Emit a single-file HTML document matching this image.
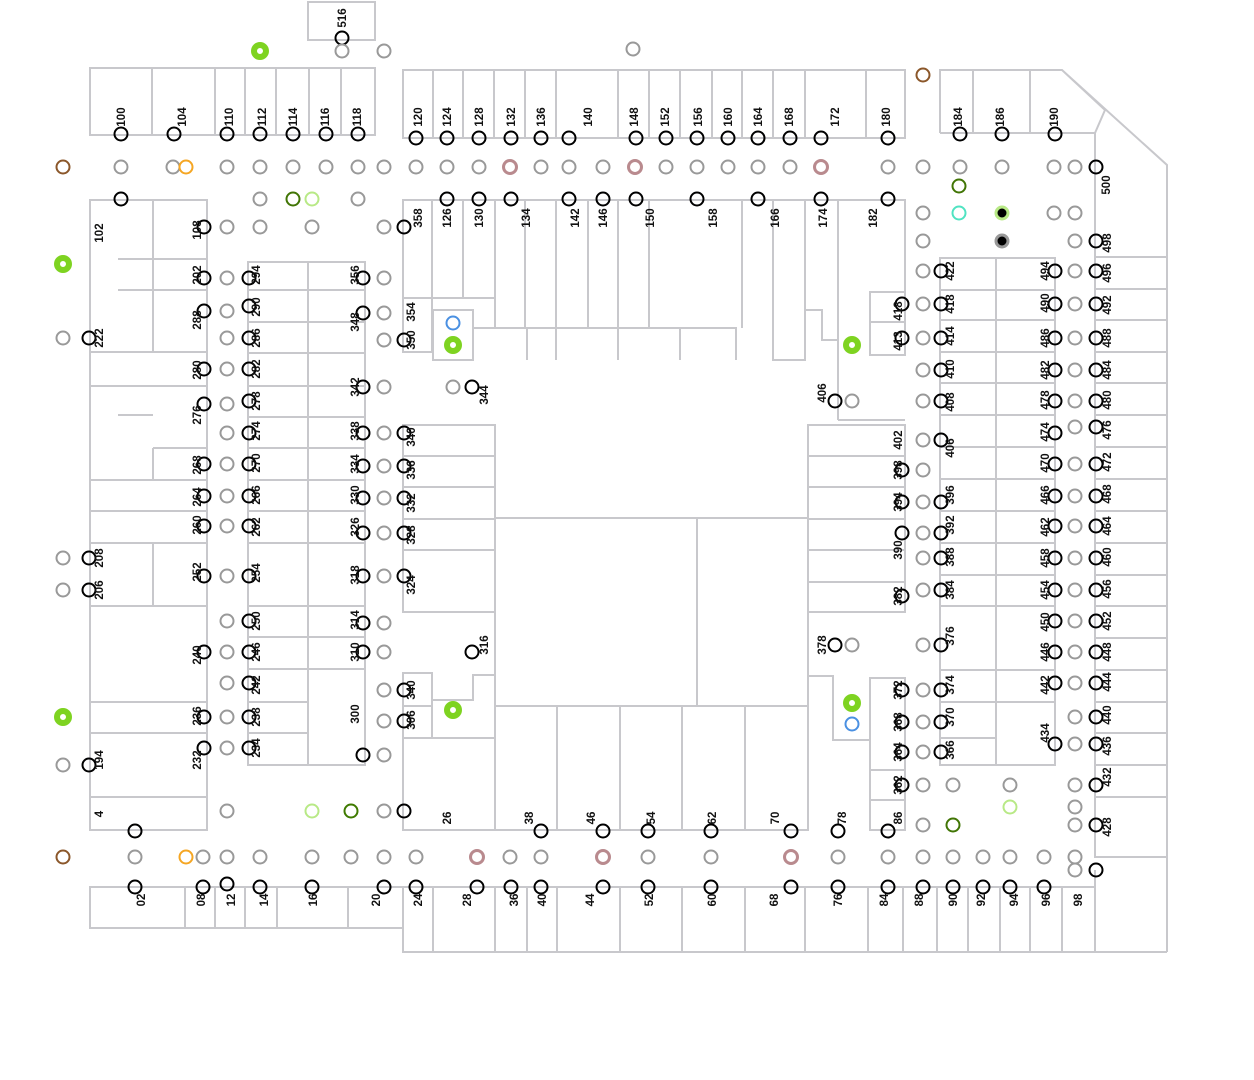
<!DOCTYPE html>
<html><head><meta charset="utf-8"><style>
html,body{margin:0;padding:0;background:#fff}
svg{display:block}
.w{fill:none;stroke:#c8c8cc;stroke-width:2}
circle{fill:none;stroke-width:2}
.k{stroke:#000}
.g{stroke:#999}
.p circle{stroke:#b98a8e;stroke-width:3}
.gr circle{fill:#fff;stroke:#7ed321;stroke-width:6}
circle.bf1{fill:#000;stroke:#b8e986;stroke-width:3}
circle.bf2{fill:#000;stroke:#999;stroke-width:3}
text{font-family:"Liberation Sans",sans-serif;font-weight:bold;font-size:11.5px;fill:#111;text-anchor:middle}
</style></head><body>
<svg width="1254" height="1080" viewBox="0 0 1254 1080" xmlns="http://www.w3.org/2000/svg">
<g class="w">
<rect x="308" y="2" width="67" height="38"/>
<rect x="90" y="68" width="285" height="67"/>
<path d="M152 68V135M215 68V135M245 68V135M276 68V135M309 68V135M341 68V135"/>
<rect x="403" y="70" width="502" height="68"/>
<path d="M433 70V138M463 70V138M494 70V138M525 70V138M556 70V138M618 70V138M649 70V138M680 70V138M712 70V138M742 70V138M773 70V138M805 70V138M866 70V138"/>
<path d="M940 133V70H1062L1167 165V952M940 133H1095V225M973 70V133M1030 70V133M1062 70L1105 110L1095 133"/>
<path d="M90 200H207V830H90ZM153 200V352M118 259H207M118 290H207M90 352H207M90 386H207M118 415H153M153 448H207M153 448V480M90 480H207M90 511H207M90 543H207M153 543V606M90 606H207M90 702H207M90 733H207M90 797H207"/>
<path d="M248 262H365V765H248ZM308 262V765M248 290H365M248 322H365M248 353H365M248 386H365M248 417H365M248 448H365M248 480H365M248 511H365M248 543H365M248 606H365M248 637H365M248 669H365M248 702H308M248 733H308"/>
<path d="M403 200H495V298H403ZM432 200V298M463 200V298M403 298V352H432V298M433 310H473V360H433ZM473 328H736V360M495 298V328M527 328V360M556 328V360M618 328V360M680 328V360"/>
<path d="M495 200V298M495 200H905V330M525 200V328M556 200V328M588 200V328M618 200V328M649 200V328M742 200V328M773 200V360H805V310H822V340H838V328M805 200V310M838 200V420M870 292H905V355H870ZM870 322H905"/>
<path d="M403 425H495V612H403ZM403 456H495M403 487H495M403 519H495M403 550H495"/>
<path d="M495 518H808V706H495ZM697 518V706"/>
<path d="M808 425H905V612H808ZM808 456H905M808 487H905M808 519H905M808 550H905M808 582H905M838 420H905"/>
<path d="M403 673H432V738H403ZM403 706H432M432 673V700H473V675H495V738M473 675V700M432 738H495M403 738V830H808V706M557 706V830M620 706V830M682 706V830M745 706V830M495 706V830M808 706V830"/>
<path d="M808 676H833V740H870V678H905V830H870V740M870 770H905M870 800H905M808 676V706"/>
<path d="M940 258H1055V765H940ZM996 258V765M940 290H1055M940 320H1055M940 352H1055M940 383H1055M940 415H1055M940 447H1055M940 479H1055M940 511H1055M940 543H1055M940 575H1055M940 606H1055M940 670H1055M940 702H1055M940 738H996"/>
<path d="M1095 225V857H1167M1095 257H1167M1095 289H1167M1095 320H1167M1095 352H1167M1095 383H1167M1095 415H1167M1095 447H1167M1095 479H1167M1095 511H1167M1095 543H1167M1095 575H1167M1095 606H1167M1095 638H1167M1095 670H1167M1095 702H1167M1095 733H1167M1095 765H1167M1095 797H1167"/>
<path d="M90 887H403V928H90ZM185 887V928M215 887V928M245 887V928M277 887V928M348 887V928"/>
<path d="M403 887H1095V952H403ZM1095 870V952H1167M433 887V952M495 887V952M527 887V952M557 887V952M620 887V952M682 887V952M745 887V952M805 887V952M868 887V952M903 887V952M937 887V952M968 887V952M1000 887V952M1030 887V952M1062 887V952"/>
</g>
<g class="k">
<circle cx="342" cy="38" r="6.5"/>
<circle cx="121" cy="134" r="6.5"/><circle cx="174" cy="134" r="6.5"/><circle cx="227" cy="134" r="6.5"/><circle cx="260" cy="134" r="6.5"/><circle cx="293" cy="134" r="6.5"/><circle cx="326" cy="134" r="6.5"/><circle cx="358" cy="134" r="6.5"/>
<circle cx="416" cy="138" r="6.5"/><circle cx="447" cy="138" r="6.5"/><circle cx="479" cy="138" r="6.5"/><circle cx="511" cy="138" r="6.5"/><circle cx="541" cy="138" r="6.5"/><circle cx="569" cy="138" r="6.5"/><circle cx="636" cy="138" r="6.5"/><circle cx="666" cy="138" r="6.5"/><circle cx="697" cy="138" r="6.5"/><circle cx="728" cy="138" r="6.5"/><circle cx="758" cy="138" r="6.5"/><circle cx="790" cy="138" r="6.5"/><circle cx="821" cy="138" r="6.5"/><circle cx="888" cy="138" r="6.5"/>
<circle cx="960" cy="134" r="6.5"/><circle cx="1002" cy="134" r="6.5"/><circle cx="1055" cy="134" r="6.5"/><circle cx="1096" cy="167" r="6.5"/>
<circle cx="121" cy="199" r="6.5"/><circle cx="447" cy="199" r="6.5"/><circle cx="479" cy="199" r="6.5"/><circle cx="511" cy="199" r="6.5"/><circle cx="569" cy="199" r="6.5"/><circle cx="603" cy="199" r="6.5"/><circle cx="636" cy="199" r="6.5"/><circle cx="697" cy="199" r="6.5"/><circle cx="758" cy="199" r="6.5"/><circle cx="821" cy="199" r="6.5"/><circle cx="888" cy="199" r="6.5"/>
<circle cx="204" cy="227" r="6.5"/><circle cx="204" cy="278" r="6.5"/><circle cx="204" cy="311" r="6.5"/><circle cx="89" cy="338" r="6.5"/><circle cx="204" cy="369" r="6.5"/><circle cx="204" cy="404" r="6.5"/><circle cx="204" cy="464" r="6.5"/><circle cx="204" cy="496" r="6.5"/><circle cx="204" cy="526" r="6.5"/><circle cx="89" cy="558" r="6.5"/><circle cx="89" cy="590" r="6.5"/><circle cx="204" cy="576" r="6.5"/><circle cx="204" cy="652" r="6.5"/><circle cx="204" cy="717" r="6.5"/><circle cx="204" cy="748" r="6.5"/><circle cx="89" cy="765" r="6.5"/><circle cx="135" cy="831" r="6.5"/>
<circle cx="249" cy="278" r="6.5"/><circle cx="249" cy="306" r="6.5"/><circle cx="249" cy="338" r="6.5"/><circle cx="249" cy="369" r="6.5"/><circle cx="249" cy="401" r="6.5"/><circle cx="249" cy="433" r="6.5"/><circle cx="249" cy="464" r="6.5"/><circle cx="249" cy="496" r="6.5"/><circle cx="249" cy="526" r="6.5"/><circle cx="249" cy="576" r="6.5"/><circle cx="249" cy="621" r="6.5"/><circle cx="249" cy="652" r="6.5"/><circle cx="249" cy="683" r="6.5"/><circle cx="249" cy="717" r="6.5"/><circle cx="249" cy="748" r="6.5"/>
<circle cx="363" cy="278" r="6.5"/><circle cx="363" cy="313" r="6.5"/><circle cx="363" cy="387" r="6.5"/><circle cx="363" cy="433" r="6.5"/><circle cx="363" cy="466" r="6.5"/><circle cx="363" cy="498" r="6.5"/><circle cx="363" cy="533" r="6.5"/><circle cx="363" cy="576" r="6.5"/><circle cx="363" cy="623" r="6.5"/><circle cx="363" cy="652" r="6.5"/><circle cx="363" cy="755" r="6.5"/>
<circle cx="404" cy="227" r="6.5"/><circle cx="404" cy="340" r="6.5"/><circle cx="404" cy="433" r="6.5"/><circle cx="404" cy="466" r="6.5"/><circle cx="404" cy="498" r="6.5"/><circle cx="404" cy="533" r="6.5"/><circle cx="404" cy="576" r="6.5"/><circle cx="404" cy="690" r="6.5"/><circle cx="404" cy="721" r="6.5"/><circle cx="404" cy="811" r="6.5"/><circle cx="472" cy="387" r="6.5"/><circle cx="472" cy="652" r="6.5"/>
<circle cx="835" cy="401" r="6.5"/><circle cx="835" cy="645" r="6.5"/>
<circle cx="902" cy="304" r="6.5"/><circle cx="902" cy="338" r="6.5"/><circle cx="902" cy="470" r="6.5"/><circle cx="902" cy="502" r="6.5"/><circle cx="902" cy="533" r="6.5"/><circle cx="902" cy="596" r="6.5"/><circle cx="902" cy="690" r="6.5"/><circle cx="902" cy="722" r="6.5"/><circle cx="902" cy="752" r="6.5"/><circle cx="902" cy="785" r="6.5"/>
<circle cx="941" cy="271" r="6.5"/><circle cx="941" cy="304" r="6.5"/><circle cx="941" cy="338" r="6.5"/><circle cx="941" cy="370" r="6.5"/><circle cx="941" cy="401" r="6.5"/><circle cx="941" cy="440" r="6.5"/><circle cx="941" cy="502" r="6.5"/><circle cx="941" cy="533" r="6.5"/><circle cx="941" cy="558" r="6.5"/><circle cx="941" cy="590" r="6.5"/><circle cx="941" cy="645" r="6.5"/><circle cx="941" cy="690" r="6.5"/><circle cx="941" cy="722" r="6.5"/><circle cx="941" cy="752" r="6.5"/>
<circle cx="1055" cy="271" r="6.5"/><circle cx="1055" cy="304" r="6.5"/><circle cx="1055" cy="338" r="6.5"/><circle cx="1055" cy="370" r="6.5"/><circle cx="1055" cy="401" r="6.5"/><circle cx="1055" cy="433" r="6.5"/><circle cx="1055" cy="464" r="6.5"/><circle cx="1055" cy="496" r="6.5"/><circle cx="1055" cy="526" r="6.5"/><circle cx="1055" cy="558" r="6.5"/><circle cx="1055" cy="590" r="6.5"/><circle cx="1055" cy="621" r="6.5"/><circle cx="1055" cy="652" r="6.5"/><circle cx="1055" cy="683" r="6.5"/><circle cx="1055" cy="744" r="6.5"/>
<circle cx="1096" cy="241" r="6.5"/><circle cx="1096" cy="271" r="6.5"/><circle cx="1096" cy="304" r="6.5"/><circle cx="1096" cy="338" r="6.5"/><circle cx="1096" cy="370" r="6.5"/><circle cx="1096" cy="401" r="6.5"/><circle cx="1096" cy="427" r="6.5"/><circle cx="1096" cy="464" r="6.5"/><circle cx="1096" cy="496" r="6.5"/><circle cx="1096" cy="526" r="6.5"/><circle cx="1096" cy="558" r="6.5"/><circle cx="1096" cy="590" r="6.5"/><circle cx="1096" cy="621" r="6.5"/><circle cx="1096" cy="652" r="6.5"/><circle cx="1096" cy="683" r="6.5"/><circle cx="1096" cy="717" r="6.5"/><circle cx="1096" cy="744" r="6.5"/><circle cx="1096" cy="785" r="6.5"/><circle cx="1096" cy="825" r="6.5"/><circle cx="1096" cy="870" r="6.5"/>
<circle cx="541" cy="831" r="6.5"/><circle cx="603" cy="831" r="6.5"/><circle cx="648" cy="831" r="6.5"/><circle cx="711" cy="831" r="6.5"/><circle cx="791" cy="831" r="6.5"/><circle cx="838" cy="831" r="6.5"/><circle cx="888" cy="831" r="6.5"/>
<circle cx="135" cy="887" r="6.5"/><circle cx="203" cy="887" r="6.5"/><circle cx="227" cy="884" r="6.5"/><circle cx="260" cy="887" r="6.5"/><circle cx="312" cy="887" r="6.5"/><circle cx="384" cy="887" r="6.5"/><circle cx="416" cy="887" r="6.5"/><circle cx="477" cy="887" r="6.5"/><circle cx="511" cy="887" r="6.5"/><circle cx="541" cy="887" r="6.5"/><circle cx="603" cy="887" r="6.5"/><circle cx="648" cy="887" r="6.5"/><circle cx="711" cy="887" r="6.5"/><circle cx="791" cy="887" r="6.5"/><circle cx="838" cy="887" r="6.5"/><circle cx="888" cy="887" r="6.5"/><circle cx="923" cy="887" r="6.5"/><circle cx="953" cy="887" r="6.5"/><circle cx="983" cy="887" r="6.5"/><circle cx="1010" cy="887" r="6.5"/><circle cx="1044" cy="887" r="6.5"/>
</g>
<g class="g">
<circle cx="342" cy="51" r="6.5"/><circle cx="384" cy="51" r="6.5"/><circle cx="633" cy="49" r="6.5"/>
<circle cx="121" cy="167" r="6.5"/><circle cx="173" cy="167" r="6.5"/><circle cx="227" cy="167" r="6.5"/><circle cx="260" cy="167" r="6.5"/><circle cx="293" cy="167" r="6.5"/><circle cx="326" cy="167" r="6.5"/><circle cx="358" cy="167" r="6.5"/><circle cx="384" cy="167" r="6.5"/><circle cx="416" cy="167" r="6.5"/><circle cx="447" cy="167" r="6.5"/><circle cx="479" cy="167" r="6.5"/><circle cx="541" cy="167" r="6.5"/><circle cx="569" cy="167" r="6.5"/><circle cx="603" cy="167" r="6.5"/><circle cx="666" cy="167" r="6.5"/><circle cx="697" cy="167" r="6.5"/><circle cx="728" cy="167" r="6.5"/><circle cx="758" cy="167" r="6.5"/><circle cx="790" cy="167" r="6.5"/><circle cx="888" cy="167" r="6.5"/><circle cx="923" cy="167" r="6.5"/><circle cx="960" cy="167" r="6.5"/><circle cx="1002" cy="167" r="6.5"/><circle cx="1054" cy="167" r="6.5"/><circle cx="1075" cy="167" r="6.5"/>
<circle cx="260" cy="199" r="6.5"/><circle cx="358" cy="199" r="6.5"/><circle cx="923" cy="213" r="6.5"/><circle cx="1054" cy="213" r="6.5"/><circle cx="1075" cy="213" r="6.5"/><circle cx="923" cy="241" r="6.5"/><circle cx="1075" cy="241" r="6.5"/>
<circle cx="227" cy="227" r="6.5"/><circle cx="260" cy="227" r="6.5"/><circle cx="312" cy="227" r="6.5"/><circle cx="384" cy="227" r="6.5"/>
<circle cx="227" cy="278" r="6.5"/><circle cx="227" cy="311" r="6.5"/><circle cx="227" cy="338" r="6.5"/><circle cx="63" cy="338" r="6.5"/><circle cx="227" cy="369" r="6.5"/><circle cx="227" cy="404" r="6.5"/><circle cx="227" cy="433" r="6.5"/><circle cx="227" cy="464" r="6.5"/><circle cx="227" cy="496" r="6.5"/><circle cx="227" cy="526" r="6.5"/><circle cx="63" cy="558" r="6.5"/><circle cx="63" cy="590" r="6.5"/><circle cx="227" cy="576" r="6.5"/><circle cx="227" cy="621" r="6.5"/><circle cx="227" cy="652" r="6.5"/><circle cx="227" cy="683" r="6.5"/><circle cx="227" cy="717" r="6.5"/><circle cx="227" cy="748" r="6.5"/><circle cx="63" cy="765" r="6.5"/><circle cx="227" cy="811" r="6.5"/>
<circle cx="384" cy="278" r="6.5"/><circle cx="384" cy="313" r="6.5"/><circle cx="384" cy="340" r="6.5"/><circle cx="384" cy="387" r="6.5"/><circle cx="384" cy="433" r="6.5"/><circle cx="384" cy="466" r="6.5"/><circle cx="384" cy="498" r="6.5"/><circle cx="384" cy="533" r="6.5"/><circle cx="384" cy="576" r="6.5"/><circle cx="384" cy="623" r="6.5"/><circle cx="384" cy="652" r="6.5"/><circle cx="384" cy="690" r="6.5"/><circle cx="384" cy="721" r="6.5"/><circle cx="384" cy="755" r="6.5"/><circle cx="384" cy="811" r="6.5"/><circle cx="453" cy="387" r="6.5"/>
<circle cx="852" cy="401" r="6.5"/><circle cx="852" cy="645" r="6.5"/>
<circle cx="923" cy="271" r="6.5"/><circle cx="923" cy="304" r="6.5"/><circle cx="923" cy="338" r="6.5"/><circle cx="923" cy="370" r="6.5"/><circle cx="923" cy="401" r="6.5"/><circle cx="923" cy="440" r="6.5"/><circle cx="923" cy="470" r="6.5"/><circle cx="923" cy="502" r="6.5"/><circle cx="923" cy="533" r="6.5"/><circle cx="923" cy="558" r="6.5"/><circle cx="923" cy="590" r="6.5"/><circle cx="923" cy="645" r="6.5"/><circle cx="923" cy="690" r="6.5"/><circle cx="923" cy="722" r="6.5"/><circle cx="923" cy="752" r="6.5"/><circle cx="923" cy="785" r="6.5"/><circle cx="923" cy="825" r="6.5"/><circle cx="953" cy="785" r="6.5"/><circle cx="1010" cy="785" r="6.5"/>
<circle cx="1075" cy="271" r="6.5"/><circle cx="1075" cy="304" r="6.5"/><circle cx="1075" cy="338" r="6.5"/><circle cx="1075" cy="370" r="6.5"/><circle cx="1075" cy="401" r="6.5"/><circle cx="1075" cy="427" r="6.5"/><circle cx="1075" cy="464" r="6.5"/><circle cx="1075" cy="496" r="6.5"/><circle cx="1075" cy="526" r="6.5"/><circle cx="1075" cy="558" r="6.5"/><circle cx="1075" cy="590" r="6.5"/><circle cx="1075" cy="621" r="6.5"/><circle cx="1075" cy="652" r="6.5"/><circle cx="1075" cy="683" r="6.5"/><circle cx="1075" cy="717" r="6.5"/><circle cx="1075" cy="744" r="6.5"/><circle cx="1075" cy="785" r="6.5"/><circle cx="1075" cy="807" r="6.5"/><circle cx="1075" cy="825" r="6.5"/><circle cx="1075" cy="857" r="6.5"/><circle cx="1075" cy="870" r="6.5"/>
<circle cx="135" cy="857" r="6.5"/><circle cx="203" cy="857" r="6.5"/><circle cx="227" cy="857" r="6.5"/><circle cx="260" cy="857" r="6.5"/><circle cx="312" cy="857" r="6.5"/><circle cx="351" cy="857" r="6.5"/><circle cx="384" cy="857" r="6.5"/><circle cx="416" cy="857" r="6.5"/><circle cx="510" cy="857" r="6.5"/><circle cx="541" cy="857" r="6.5"/><circle cx="648" cy="857" r="6.5"/><circle cx="711" cy="857" r="6.5"/><circle cx="838" cy="857" r="6.5"/><circle cx="888" cy="857" r="6.5"/><circle cx="923" cy="857" r="6.5"/><circle cx="953" cy="857" r="6.5"/><circle cx="983" cy="857" r="6.5"/><circle cx="1010" cy="857" r="6.5"/><circle cx="1044" cy="857" r="6.5"/>
<circle cx="351" cy="811" r="6.5" style="stroke:#3f7a00"/>
</g>
<g class="p"><circle cx="510" cy="167" r="6.5"/><circle cx="635" cy="167" r="6.5"/><circle cx="821" cy="167" r="6.5"/><circle cx="477" cy="857" r="6.5"/><circle cx="603" cy="857" r="6.5"/><circle cx="791" cy="857" r="6.5"/></g>
<g>
<circle cx="186" cy="167" r="6.5" stroke="#f5a623"/><circle cx="186" cy="857" r="6.5" stroke="#f5a623"/>
<circle cx="63" cy="167" r="6.5" stroke="#8b572a"/><circle cx="63" cy="857" r="6.5" stroke="#8b572a"/><circle cx="923" cy="75" r="6.5" stroke="#8b572a"/>
<circle cx="293" cy="199" r="6.5" stroke="#417505"/><circle cx="959" cy="186" r="6.5" stroke="#417505"/><circle cx="953" cy="825" r="6.5" stroke="#417505"/>
<circle cx="312" cy="199" r="6.5" stroke="#b8e986"/><circle cx="312" cy="811" r="6.5" stroke="#b8e986"/><circle cx="1010" cy="807" r="6.5" stroke="#b8e986"/>
<circle cx="959" cy="213" r="6.5" stroke="#50e3c2"/>
<circle cx="453" cy="323" r="6.5" stroke="#4a90e2"/><circle cx="852" cy="724" r="6.5" stroke="#4a90e2"/>
<circle class="bf1" cx="1002" cy="213" r="6"/><circle class="bf2" cx="1002" cy="241" r="6"/>
</g>
<g class="gr"><circle cx="260" cy="51" r="6"/><circle cx="63" cy="264" r="6"/><circle cx="63" cy="717" r="6"/><circle cx="453" cy="345" r="6"/><circle cx="453" cy="710" r="6"/><circle cx="852" cy="345" r="6"/><circle cx="852" cy="703" r="6"/></g>
<g>
<text transform="translate(342,18) rotate(-90)" dy="4">516</text>
<text transform="translate(121,117) rotate(-90)" dy="4">100</text><text transform="translate(182,117) rotate(-90)" dy="4">104</text><text transform="translate(229,117) rotate(-90)" dy="4">110</text><text transform="translate(262,117) rotate(-90)" dy="4">112</text><text transform="translate(293,117) rotate(-90)" dy="4">114</text><text transform="translate(325,117) rotate(-90)" dy="4">116</text><text transform="translate(357,117) rotate(-90)" dy="4">118</text>
<text transform="translate(418,117) rotate(-90)" dy="4">120</text><text transform="translate(447,117) rotate(-90)" dy="4">124</text><text transform="translate(479,117) rotate(-90)" dy="4">128</text><text transform="translate(511,117) rotate(-90)" dy="4">132</text><text transform="translate(541,117) rotate(-90)" dy="4">136</text><text transform="translate(588,117) rotate(-90)" dy="4">140</text><text transform="translate(634,117) rotate(-90)" dy="4">148</text><text transform="translate(665,117) rotate(-90)" dy="4">152</text><text transform="translate(698,117) rotate(-90)" dy="4">156</text><text transform="translate(728,117) rotate(-90)" dy="4">160</text><text transform="translate(758,117) rotate(-90)" dy="4">164</text><text transform="translate(789,117) rotate(-90)" dy="4">168</text><text transform="translate(835,117) rotate(-90)" dy="4">172</text><text transform="translate(886,117) rotate(-90)" dy="4">180</text>
<text transform="translate(958,117) rotate(-90)" dy="4">184</text><text transform="translate(1000,117) rotate(-90)" dy="4">186</text><text transform="translate(1054,117) rotate(-90)" dy="4">190</text><text transform="translate(1106,185) rotate(-90)" dy="4">500</text>
<text transform="translate(99,233) rotate(-90)" dy="4">102</text><text transform="translate(197,230) rotate(-90)" dy="4">108</text><text transform="translate(197,275) rotate(-90)" dy="4">202</text><text transform="translate(197,320) rotate(-90)" dy="4">288</text><text transform="translate(99,338) rotate(-90)" dy="4">222</text><text transform="translate(197,370) rotate(-90)" dy="4">280</text><text transform="translate(197,415) rotate(-90)" dy="4">276</text><text transform="translate(197,465) rotate(-90)" dy="4">268</text><text transform="translate(197,497) rotate(-90)" dy="4">264</text><text transform="translate(197,525) rotate(-90)" dy="4">260</text><text transform="translate(99,558) rotate(-90)" dy="4">208</text><text transform="translate(99,590) rotate(-90)" dy="4">206</text><text transform="translate(197,572) rotate(-90)" dy="4">252</text><text transform="translate(197,655) rotate(-90)" dy="4">240</text><text transform="translate(197,716) rotate(-90)" dy="4">236</text><text transform="translate(197,760) rotate(-90)" dy="4">232</text><text transform="translate(99,760) rotate(-90)" dy="4">194</text><text transform="translate(99,814) rotate(-90)" dy="4">4</text>
<text transform="translate(256,275) rotate(-90)" dy="4">294</text><text transform="translate(256,307) rotate(-90)" dy="4">290</text><text transform="translate(256,338) rotate(-90)" dy="4">286</text><text transform="translate(256,369) rotate(-90)" dy="4">282</text><text transform="translate(256,401) rotate(-90)" dy="4">278</text><text transform="translate(256,431) rotate(-90)" dy="4">274</text><text transform="translate(256,463) rotate(-90)" dy="4">270</text><text transform="translate(256,495) rotate(-90)" dy="4">266</text><text transform="translate(256,527) rotate(-90)" dy="4">262</text><text transform="translate(256,573) rotate(-90)" dy="4">254</text><text transform="translate(256,621) rotate(-90)" dy="4">250</text><text transform="translate(256,652) rotate(-90)" dy="4">246</text><text transform="translate(256,685) rotate(-90)" dy="4">242</text><text transform="translate(256,717) rotate(-90)" dy="4">238</text><text transform="translate(256,748) rotate(-90)" dy="4">234</text>
<text transform="translate(355,275) rotate(-90)" dy="4">356</text><text transform="translate(355,322) rotate(-90)" dy="4">348</text><text transform="translate(355,387) rotate(-90)" dy="4">342</text><text transform="translate(355,431) rotate(-90)" dy="4">338</text><text transform="translate(355,464) rotate(-90)" dy="4">334</text><text transform="translate(355,495) rotate(-90)" dy="4">330</text><text transform="translate(355,527) rotate(-90)" dy="4">326</text><text transform="translate(355,575) rotate(-90)" dy="4">318</text><text transform="translate(355,620) rotate(-90)" dy="4">314</text><text transform="translate(355,652) rotate(-90)" dy="4">310</text><text transform="translate(355,714) rotate(-90)" dy="4">300</text>
<text transform="translate(418,218) rotate(-90)" dy="4">358</text><text transform="translate(411,312) rotate(-90)" dy="4">354</text><text transform="translate(411,340) rotate(-90)" dy="4">350</text><text transform="translate(411,437) rotate(-90)" dy="4">340</text><text transform="translate(411,470) rotate(-90)" dy="4">336</text><text transform="translate(411,503) rotate(-90)" dy="4">332</text><text transform="translate(411,535) rotate(-90)" dy="4">328</text><text transform="translate(411,585) rotate(-90)" dy="4">324</text><text transform="translate(411,690) rotate(-90)" dy="4">340</text><text transform="translate(411,720) rotate(-90)" dy="4">306</text><text transform="translate(484,395) rotate(-90)" dy="4">344</text><text transform="translate(484,645) rotate(-90)" dy="4">316</text>
<text transform="translate(447,218) rotate(-90)" dy="4">126</text><text transform="translate(479,218) rotate(-90)" dy="4">130</text><text transform="translate(526,218) rotate(-90)" dy="4">134</text><text transform="translate(575,218) rotate(-90)" dy="4">142</text><text transform="translate(603,218) rotate(-90)" dy="4">146</text><text transform="translate(650,218) rotate(-90)" dy="4">150</text><text transform="translate(713,218) rotate(-90)" dy="4">158</text><text transform="translate(775,218) rotate(-90)" dy="4">166</text><text transform="translate(823,218) rotate(-90)" dy="4">174</text><text transform="translate(873,218) rotate(-90)" dy="4">182</text>
<text transform="translate(822,393) rotate(-90)" dy="4">406</text><text transform="translate(898,440) rotate(-90)" dy="4">402</text><text transform="translate(898,470) rotate(-90)" dy="4">398</text><text transform="translate(898,502) rotate(-90)" dy="4">394</text><text transform="translate(898,550) rotate(-90)" dy="4">390</text><text transform="translate(898,596) rotate(-90)" dy="4">382</text><text transform="translate(822,645) rotate(-90)" dy="4">378</text><text transform="translate(898,690) rotate(-90)" dy="4">372</text><text transform="translate(898,722) rotate(-90)" dy="4">368</text><text transform="translate(898,752) rotate(-90)" dy="4">364</text><text transform="translate(898,785) rotate(-90)" dy="4">362</text><text transform="translate(898,311) rotate(-90)" dy="4">418</text><text transform="translate(898,341) rotate(-90)" dy="4">413</text>
<text transform="translate(950,271) rotate(-90)" dy="4">422</text><text transform="translate(950,304) rotate(-90)" dy="4">418</text><text transform="translate(950,336) rotate(-90)" dy="4">414</text><text transform="translate(950,369) rotate(-90)" dy="4">410</text><text transform="translate(950,402) rotate(-90)" dy="4">408</text><text transform="translate(950,448) rotate(-90)" dy="4">406</text><text transform="translate(950,495) rotate(-90)" dy="4">396</text><text transform="translate(950,525) rotate(-90)" dy="4">392</text><text transform="translate(950,557) rotate(-90)" dy="4">388</text><text transform="translate(950,590) rotate(-90)" dy="4">384</text><text transform="translate(950,636) rotate(-90)" dy="4">376</text><text transform="translate(950,685) rotate(-90)" dy="4">374</text><text transform="translate(950,717) rotate(-90)" dy="4">370</text><text transform="translate(950,750) rotate(-90)" dy="4">366</text>
<text transform="translate(1045,271) rotate(-90)" dy="4">494</text><text transform="translate(1045,303) rotate(-90)" dy="4">490</text><text transform="translate(1045,338) rotate(-90)" dy="4">486</text><text transform="translate(1045,370) rotate(-90)" dy="4">482</text><text transform="translate(1045,400) rotate(-90)" dy="4">478</text><text transform="translate(1045,432) rotate(-90)" dy="4">474</text><text transform="translate(1045,463) rotate(-90)" dy="4">470</text><text transform="translate(1045,495) rotate(-90)" dy="4">466</text><text transform="translate(1045,527) rotate(-90)" dy="4">462</text><text transform="translate(1045,558) rotate(-90)" dy="4">458</text><text transform="translate(1045,590) rotate(-90)" dy="4">454</text><text transform="translate(1045,622) rotate(-90)" dy="4">450</text><text transform="translate(1045,652) rotate(-90)" dy="4">446</text><text transform="translate(1045,685) rotate(-90)" dy="4">442</text><text transform="translate(1045,733) rotate(-90)" dy="4">434</text>
<text transform="translate(1107,243) rotate(-90)" dy="4">498</text><text transform="translate(1107,273) rotate(-90)" dy="4">496</text><text transform="translate(1107,305) rotate(-90)" dy="4">492</text><text transform="translate(1107,338) rotate(-90)" dy="4">488</text><text transform="translate(1107,370) rotate(-90)" dy="4">484</text><text transform="translate(1107,400) rotate(-90)" dy="4">480</text><text transform="translate(1107,430) rotate(-90)" dy="4">476</text><text transform="translate(1107,462) rotate(-90)" dy="4">472</text><text transform="translate(1107,494) rotate(-90)" dy="4">468</text><text transform="translate(1107,526) rotate(-90)" dy="4">464</text><text transform="translate(1107,557) rotate(-90)" dy="4">460</text><text transform="translate(1107,589) rotate(-90)" dy="4">456</text><text transform="translate(1107,621) rotate(-90)" dy="4">452</text><text transform="translate(1107,652) rotate(-90)" dy="4">448</text><text transform="translate(1107,682) rotate(-90)" dy="4">444</text><text transform="translate(1107,715) rotate(-90)" dy="4">440</text><text transform="translate(1107,746) rotate(-90)" dy="4">436</text><text transform="translate(1107,777) rotate(-90)" dy="4">432</text><text transform="translate(1107,827) rotate(-90)" dy="4">428</text>
<text transform="translate(447,818) rotate(-90)" dy="4">26</text><text transform="translate(529,818) rotate(-90)" dy="4">38</text><text transform="translate(591,818) rotate(-90)" dy="4">46</text><text transform="translate(651,818) rotate(-90)" dy="4">54</text><text transform="translate(712,818) rotate(-90)" dy="4">62</text><text transform="translate(775,818) rotate(-90)" dy="4">70</text><text transform="translate(842,818) rotate(-90)" dy="4">78</text><text transform="translate(898,818) rotate(-90)" dy="4">86</text>
<text transform="translate(141,900) rotate(-90)" dy="4">02</text><text transform="translate(201,900) rotate(-90)" dy="4">08</text><text transform="translate(231,900) rotate(-90)" dy="4">12</text><text transform="translate(264,900) rotate(-90)" dy="4">14</text><text transform="translate(313,900) rotate(-90)" dy="4">16</text><text transform="translate(376,900) rotate(-90)" dy="4">20</text><text transform="translate(418,900) rotate(-90)" dy="4">24</text><text transform="translate(467,900) rotate(-90)" dy="4">28</text><text transform="translate(514,900) rotate(-90)" dy="4">36</text><text transform="translate(542,900) rotate(-90)" dy="4">40</text><text transform="translate(590,900) rotate(-90)" dy="4">44</text><text transform="translate(649,900) rotate(-90)" dy="4">52</text><text transform="translate(712,900) rotate(-90)" dy="4">60</text><text transform="translate(774,900) rotate(-90)" dy="4">68</text><text transform="translate(838,900) rotate(-90)" dy="4">76</text><text transform="translate(884,900) rotate(-90)" dy="4">84</text><text transform="translate(919,900) rotate(-90)" dy="4">88</text><text transform="translate(953,900) rotate(-90)" dy="4">90</text><text transform="translate(981,900) rotate(-90)" dy="4">92</text><text transform="translate(1014,900) rotate(-90)" dy="4">94</text><text transform="translate(1046,900) rotate(-90)" dy="4">96</text><text transform="translate(1078,900) rotate(-90)" dy="4">98</text>
</g>
</svg>
</body></html>
